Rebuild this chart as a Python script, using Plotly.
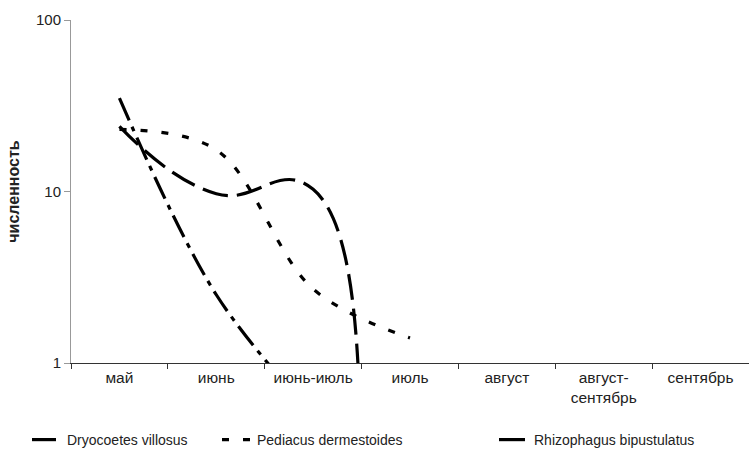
import plotly.graph_objects as go

categories = ["май", "июнь", "июнь-июль", "июль", "август", "август-<br>сентябрь", "сентябрь"]
dryocoetes = [35, 2.5, 0.5, None, None, None, None]
pediacus = [23, 17.5, 2.7, 1.4, None, None, None]
rhizophagus = [24, 9.7, 10.3, 0.001, 0.001, None, None]

series = [
    ("Dryocoetes villosus", dryocoetes, "24px,7px,5px,7px", "legend", 1.0),
    ("Pediacus dermestoides", pediacus, "7px,14px", "legend2", 1.0),
    ("Rhizophagus bipustulatus", rhizophagus, "26px,9px", "legend3", 1.3),
]

fig = go.Figure()
for name, vals, dash, lg, sm in series:
    fig.add_trace(go.Scatter(
        x=categories, y=vals, name=name, mode="lines", showlegend=True,
        line=dict(color="black", width=3.2, dash=dash, shape="spline", smoothing=sm),
        connectgaps=False, legend=lg,
    ))

font = dict(family="Liberation Sans, Arial, sans-serif", size=14, color="#222")
leg_common = dict(orientation="h", yanchor="middle", xanchor="left",
                  xref="container", yref="container",
                  font=font, bgcolor="rgba(0,0,0,0)", itemwidth=30)
ly = 1 - 440 / 462
fig.update_layout(
    width=749, height=462, showlegend=True,
    margin=dict(l=71, r=0, t=20, b=99, autoexpand=False),
    paper_bgcolor="white", plot_bgcolor="white",
    font=font,
    legend=dict(x=27 / 749, y=ly, **leg_common),
    legend2=dict(x=217 / 749, y=ly, **leg_common),
    legend3=dict(x=494 / 749, y=ly, **leg_common),
)
fig.update_xaxes(
    type="category", categoryorder="array", categoryarray=categories,
    range=[-0.5, 6.5], showgrid=False, zeroline=False, automargin=False,
    showline=True, linecolor="#333", linewidth=1.2,
    tickson="boundaries", ticks="outside", ticklen=5, tickcolor="#333",
    tickfont=dict(family="Liberation Sans, Arial, sans-serif", size=15.5, color="#222"),
)
fig.update_yaxes(
    type="log", range=[0, 2], showgrid=False, zeroline=False, automargin=False,
    showline=True, linecolor="#999", linewidth=1,
    tickvals=[1, 10, 100], ticktext=["1", "10", "100"],
    ticks="outside", ticklen=6, tickcolor="#999",
    tickfont=dict(family="Liberation Sans, Arial, sans-serif", size=15, color="#222"),
    title=dict(text="<b>численность</b>", standoff=12,
               font=dict(family="Liberation Sans, Arial, sans-serif", size=16, color="#222")),
)
fig.write_html("out.html", post_script="document.body.style.margin='0';",
               config={"displayModeBar": False})
